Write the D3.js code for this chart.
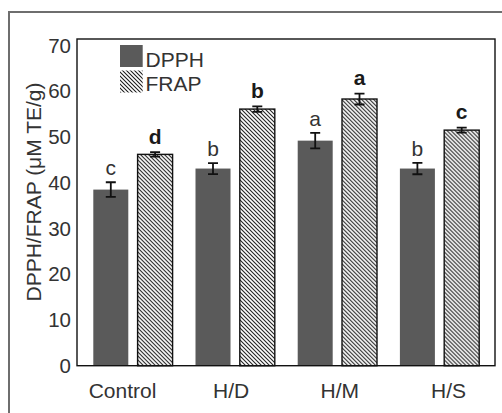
<!DOCTYPE html>
<html>
<head>
<meta charset="utf-8">
<script src="https://cdn.jsdelivr.net/npm/d3@7"></script>
<style>
  html, body { margin: 0; padding: 0; background: #fff; }
  svg { display: block; font-family: "Liberation Sans", Arial, sans-serif; }
</style>
</head>
<body>
<svg id="chart" width="502" height="413"></svg>
<script>
// Treatments and the two antioxidant assays
const categories = ["Control", "H/D", "H/M", "H/S"];
const seriesNames = ["DPPH", "FRAP"];

// Mean values (µM TE/g) and standard deviations
const dpphValues = [38.5, 43.1, 49.2, 43.1];
const dpphErrors = [1.6, 1.2, 1.7, 1.25];
const frapValues = [46.2, 56.1, 58.3, 51.5];
const frapErrors = [0.5, 0.6, 1.2, 0.55];

// Significance letters for each bar
const dpphLetters = ["c", "b", "a", "b"];
const frapLetters = ["d", "b", "a", "c"];

// Value axis ticks
const yTicks = [0, 10, 20, 30, 40, 50, 60, 70];

const rows = categories.map((c, i) => ({
  category: c,
  bars: [
    { series: "DPPH", value: dpphValues[i], err: dpphErrors[i], letter: dpphLetters[i] },
    { series: "FRAP", value: frapValues[i], err: frapErrors[i], letter: frapLetters[i] }
  ]
}));

const svg = d3.select("#chart");
const frame = { left: 77, right: 495, top: 39, bottom: 365.7 };

// Hatch for the FRAP bars
const defs = svg.append("defs");
const hp = 4;
const pat = defs.append("pattern")
  .attr("id", "hatch")
  .attr("patternUnits", "userSpaceOnUse")
  .attr("width", hp).attr("height", hp);
pat.append("rect").attr("width", hp).attr("height", hp).attr("fill", "#fff");
pat.append("path")
  .attr("d", `M-1,-1 L${hp + 1},${hp + 1} M-1,${hp - 1} L1,${hp + 1} M${hp - 1},-1 L${hp + 1},1`)
  .attr("stroke", "#1a1a1a").attr("stroke-width", 1.05);

// Outer panel border (clipped at the right and bottom)
svg.append("path")
  .attr("d", "M9,413 L9,12 L502,12")
  .attr("fill", "none").attr("stroke", "#6e6e6e").attr("stroke-width", 2);

const y = d3.scaleLinear().domain([0, 70]).range([frame.bottom, 45.5]);

const x0 = d3.scaleBand().domain(categories).range([81.85, 490.65]).padding(0);
const x1 = d3.scaleBand().domain(seriesNames).range([0, x0.bandwidth()])
  .paddingInner(0.21).paddingOuter(0.2585);

// Bars
const groups = svg.append("g").selectAll("g").data(rows).join("g")
  .attr("transform", d => `translate(${x0(d.category)},0)`);

groups.selectAll("rect").data(d => d.bars).join("rect")
  .attr("x", d => x1(d.series))
  .attr("y", d => y(d.value))
  .attr("width", x1.bandwidth())
  .attr("height", d => y(0) - y(d.value))
  .attr("fill", d => d.series === "DPPH" ? "#5a5a5a" : "url(#hatch)")
  .attr("stroke", d => d.series === "DPPH" ? "none" : "#111")
  .attr("stroke-width", 1.4);

// Error bars
const capHalf = 5;
groups.selectAll("path.err").data(d => d.bars).join("path")
  .attr("class", "err")
  .attr("d", d => {
    const cx = x1(d.series) + x1.bandwidth() / 2;
    const t = y(d.value + d.err), b = y(d.value - d.err);
    return `M${cx},${t}V${b}M${cx - capHalf},${t}H${cx + capHalf}M${cx - capHalf},${b}H${cx + capHalf}`;
  })
  .attr("fill", "none").attr("stroke", "#111").attr("stroke-width", 1.8);

// Significance letters
groups.selectAll("text.sig").data(d => d.bars).join("text")
  .attr("class", "sig")
  .attr("x", d => x1(d.series) + x1.bandwidth() / 2)
  .attr("y", d => y(d.value + d.err) - (d.series === "DPPH" ? 7 : 8.5))
  .attr("text-anchor", "middle")
  .attr("font-size", 21)
  .attr("font-weight", d => d.series === "FRAP" ? "bold" : "normal")
  .attr("fill", d => d.series === "FRAP" ? "#1a1a1a" : "#333")
  .text(d => d.letter);

// Plot frame
svg.append("rect")
  .attr("x", frame.left).attr("y", frame.top)
  .attr("width", frame.right - frame.left).attr("height", frame.bottom - frame.top)
  .attr("fill", "none").attr("stroke", "#111").attr("stroke-width", 1.4);

// Y axis labels
const yAxis = svg.append("g")
  .attr("transform", `translate(${frame.left},0)`)
  .call(d3.axisLeft(y).tickValues(yTicks).tickSize(0).tickPadding(6));
yAxis.select(".domain").remove();
yAxis.selectAll("text")
  .attr("font-size", 20.5).attr("fill", "#333").attr("font-family", "Liberation Sans, Arial, sans-serif");

// X axis category labels
const xLabel = d3.scaleBand().domain(categories).range([68.17, 502.83]);
const xAxis = svg.append("g")
  .attr("transform", `translate(0,${frame.bottom})`)
  .call(d3.axisBottom(xLabel).tickSize(0).tickPadding(17));
xAxis.select(".domain").remove();
xAxis.selectAll("text")
  .attr("font-size", 21).attr("fill", "#333").attr("font-family", "Liberation Sans, Arial, sans-serif");

// Y axis title
svg.append("text")
  .attr("transform", "translate(41,192) rotate(-90)")
  .attr("text-anchor", "middle")
  .attr("font-size", 21).attr("fill", "#333")
  .text("DPPH/FRAP (μM TE/g)");

// Legend
const legend = svg.append("g");
const legendItems = seriesNames.map((s, i) => ({ s, i }));
legend.selectAll("rect").data(legendItems).join("rect")
  .attr("x", 120).attr("y", d => 45 + d.i * 25.5)
  .attr("width", 22.7).attr("height", 22)
  .attr("fill", d => d.s === "DPPH" ? "#5a5a5a" : "url(#hatch)");
legend.selectAll("text").data(legendItems).join("text")
  .attr("x", 145.5).attr("y", d => 66.5 + d.i * 24)
  .attr("font-size", 21).attr("fill", "#333")
  .text(d => d.s);
</script>
</body>
</html>
